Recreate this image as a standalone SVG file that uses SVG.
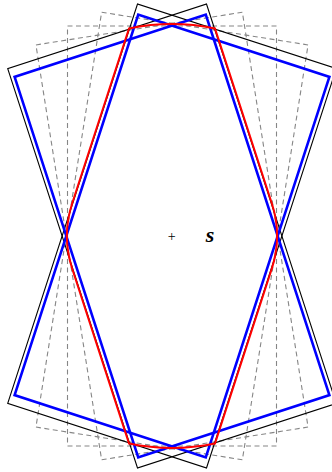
<svg xmlns="http://www.w3.org/2000/svg" width="332" height="472" viewBox="0 0 332 472">
<style>
.dash{fill:none;stroke:#868686;stroke-width:1.1;stroke-dasharray:5 3.5}
.blk{fill:none;stroke:#000;stroke-width:1.1}
.blu{fill:none;stroke:#0000ff;stroke-width:2.6}
.red{fill:none;stroke:#ff0000;stroke-width:2}
.lbl{font-family:"Liberation Serif",serif;fill:#000}
</style>
<rect width="332" height="472" fill="#fff"/>
<g id="rotated-dashed" transform="translate(172,236)">
<rect class="dash" x="-104.5" y="-210" width="209" height="420" transform="rotate(-9)"/>
<rect class="dash" x="-104.5" y="-210" width="209" height="420"/>
<rect class="dash" x="-104.5" y="-210" width="209" height="420" transform="rotate(9)"/>
</g>
<g id="black-rects" transform="translate(172,236)">
<rect class="blk" x="-104.5" y="-210" width="209" height="420" transform="rotate(-18)"/>
<rect class="blk" x="-104.5" y="-210" width="209" height="420" transform="rotate(18)"/>
</g>
<g id="blue-rects" transform="translate(172,236)">
<rect class="blu" x="-100.5" y="-200" width="201" height="400" transform="rotate(-18)"/>
<rect class="blu" x="-100.5" y="-200" width="201" height="400" transform="rotate(18)"/>
</g>
<g id="red-region">
<path class="red" d="M129.05,28.4 A212,212 0 0 1 214.95,28.4 L271.86,203.55 A105,105 0 0 1 271.86,268.45 L214.95,443.6 A212,212 0 0 1 129.05,443.6 L72.14,268.45 A105,105 0 0 1 72.14,203.55 Z"/>
</g>
<g id="labels">
<text class="lbl" x="171.7" y="240.5" font-size="14" text-anchor="middle">+</text>
<text class="lbl" x="210" y="242" font-size="22" font-weight="bold" font-style="italic" text-anchor="middle">s</text>
</g>
</svg>
